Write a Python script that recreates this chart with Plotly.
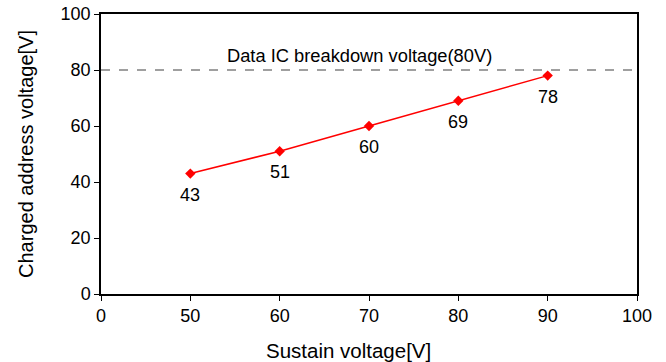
import plotly.graph_objects as go

x_categories = ["0", "50", "60", "70", "80", "90", "100"]
sustain_voltage = ["50", "60", "70", "80", "90"]
charged_voltage = [43, 51, 60, 69, 78]
breakdown_voltage = 80
breakdown_label = "Data IC breakdown voltage(80V)"
x_title = "Sustain voltage[V]"
y_title = "Charged address voltage[V]"
y_ticks = [0, 20, 40, 60, 80, 100]

FONT = "Liberation Sans, Arial, sans-serif"

fig = go.Figure()

fig.add_trace(go.Scatter(
    x=[x_categories[0], x_categories[-1]],
    y=[breakdown_voltage, breakdown_voltage],
    mode="lines",
    line=dict(color="#808080", width=1.5, dash="dash"),
    hoverinfo="skip",
    showlegend=False,
))

fig.add_trace(go.Scatter(
    x=sustain_voltage,
    y=charged_voltage,
    mode="lines+markers",
    line=dict(color="#ff0000", width=1.5),
    marker=dict(symbol="diamond", size=8, color="#ff0000"),
    showlegend=False,
))

for xv, yv in zip(sustain_voltage, charged_voltage):
    fig.add_annotation(
        x=x_categories.index(xv), y=yv, text=str(yv), showarrow=False, yshift=-21,
        font=dict(family=FONT, size=18, color="black"),
    )

fig.add_annotation(
    x=0.483, xref="paper", y=breakdown_voltage, yref="y",
    text=breakdown_label, showarrow=False, yshift=15,
    font=dict(family=FONT, size=18.3, color="black"),
)

# x-axis title (placed slightly left of the plot centre, as in the reference)
fig.add_annotation(
    x=0.461, xref="paper", y=-0.155, yref="paper",
    xanchor="center", yanchor="top",
    text=x_title, showarrow=False,
    font=dict(family=FONT, size=20.5, color="black"),
)

fig.update_layout(
    width=666, height=362,
    margin=dict(l=101, r=29, t=14, b=68, autoexpand=False),
    paper_bgcolor="white", plot_bgcolor="white",
    font=dict(family=FONT, size=18, color="black"),
)

fig.update_xaxes(
    type="category", categoryorder="array", categoryarray=x_categories,
    range=[0, len(x_categories) - 1], automargin=False,
    showline=True, linecolor="black", linewidth=1.5, mirror=True,
    ticks="outside", ticklen=5, tickcolor="black", tickwidth=1,
    showgrid=False, zeroline=False,
    tickfont=dict(size=18),
)

fig.update_yaxes(
    range=[0, 100], tickvals=y_ticks, automargin=False,
    showline=True, linecolor="black", linewidth=1.5, mirror=True,
    ticks="outside", ticklen=5, tickcolor="black", tickwidth=1,
    showgrid=False, zeroline=False,
    title=dict(text=y_title, font=dict(size=20), standoff=22),
    tickfont=dict(size=18),
)

fig.write_html(
    "out.html",
    config={"displayModeBar": False},
    post_script="document.body.style.margin='0';document.body.style.overflow='hidden';",
)
